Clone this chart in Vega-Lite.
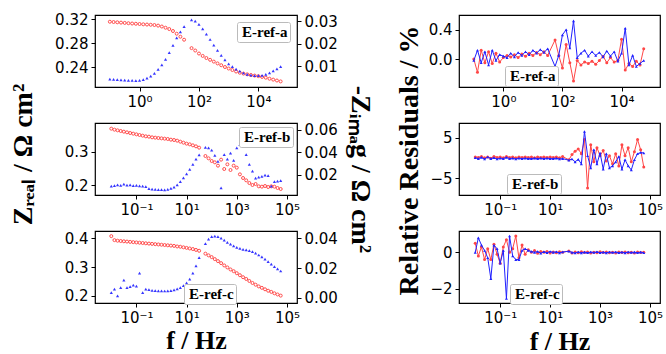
{
  "$schema": "https://vega.github.io/schema/vega-lite/v6.json",
  "background": "white",
  "padding": {"left": 8, "top": 11, "right": 0, "bottom": 0},
  "config": {
    "view": {"stroke": "black", "strokeWidth": 1.2},
    "axis": {"domain": false, "grid": false, "tickColor": "black", "tickSize": 4, "tickWidth": 1, "labelFont": "DejaVu Sans", "labelFontSize": 15, "labelColor": "black", "labelPadding": 3, "labelFlush": false, "titleFont": "Liberation Serif", "titleFontWeight": "bold", "titleFontSize": 28, "titleColor": "black"},
    "legend": {"title": null, "fillColor": "white", "strokeColor": "#bbbbbb", "padding": 2, "cornerRadius": 2, "labelFont": "Liberation Serif", "labelFontWeight": "bold", "labelFontSize": 15, "labelColor": "black", "symbolOpacity": 0, "symbolSize": 0, "symbolStrokeWidth": 0, "labelOffset": -12}
  },
  "datasets": {
    "a": [
      {"f": 0.1, "zr": 0.3155, "zi": 0.0042, "rr": 0.0, "ri": -0.02},
      {"f": 0.1334, "zr": 0.3150, "zi": 0.0041, "rr": -0.18, "ri": 0.12},
      {"f": 0.1778, "zr": 0.3145, "zi": 0.0039, "rr": 0.12, "ri": -0.05},
      {"f": 0.2371, "zr": 0.3140, "zi": 0.0038, "rr": -0.05, "ri": 0.10},
      {"f": 0.3162, "zr": 0.3135, "zi": 0.0037, "rr": 0.10, "ri": -0.08},
      {"f": 0.4217, "zr": 0.3130, "zi": 0.0036, "rr": -0.06, "ri": 0.12},
      {"f": 0.5623, "zr": 0.3125, "zi": 0.0036, "rr": 0.08, "ri": -0.02},
      {"f": 0.7499, "zr": 0.3121, "zi": 0.0035, "rr": -0.04, "ri": 0.06},
      {"f": 1, "zr": 0.3117, "zi": 0.0036, "rr": 0.02, "ri": 0.04},
      {"f": 1.334, "zr": 0.3112, "zi": 0.0039, "rr": 0.05, "ri": 0.02},
      {"f": 1.778, "zr": 0.3108, "zi": 0.0046, "rr": 0.03, "ri": 0.08},
      {"f": 2.371, "zr": 0.3104, "zi": 0.0055, "rr": 0.06, "ri": 0.03},
      {"f": 3.162, "zr": 0.3100, "zi": 0.0067, "rr": 0.02, "ri": 0.09},
      {"f": 4.217, "zr": 0.3090, "zi": 0.0085, "rr": 0.07, "ri": 0.05},
      {"f": 5.623, "zr": 0.3075, "zi": 0.0105, "rr": 0.04, "ri": 0.10},
      {"f": 7.499, "zr": 0.3055, "zi": 0.0130, "rr": 0.08, "ri": 0.06},
      {"f": 10, "zr": 0.3033, "zi": 0.0160, "rr": 0.05, "ri": 0.12},
      {"f": 13.34, "zr": 0.3000, "zi": 0.0192, "rr": 0.09, "ri": 0.08},
      {"f": 17.78, "zr": 0.2955, "zi": 0.0225, "rr": 0.06, "ri": 0.13},
      {"f": 23.71, "zr": 0.2905, "zi": 0.0252, "rr": 0.10, "ri": 0.09},
      {"f": 31.62, "zr": 0.2855, "zi": 0.0275, "rr": 0.05, "ri": 0.14},
      {"f": 56.23, "zr": 0.2715, "zi": 0.0305, "rr": 0.26, "ri": -0.10},
      {"f": 74.99, "zr": 0.2675, "zi": 0.0300, "rr": 0.05, "ri": 0.05},
      {"f": 100, "zr": 0.2625, "zi": 0.0285, "rr": -0.12, "ri": 0.33},
      {"f": 133.4, "zr": 0.2585, "zi": 0.0265, "rr": 0.20, "ri": 0.40},
      {"f": 177.8, "zr": 0.2550, "zi": 0.0242, "rr": -0.05, "ri": 0.15},
      {"f": 237.1, "zr": 0.2520, "zi": 0.0218, "rr": -0.30, "ri": 0.52},
      {"f": 316.2, "zr": 0.2490, "zi": 0.0193, "rr": -0.02, "ri": 0.02},
      {"f": 421.7, "zr": 0.2460, "zi": 0.0170, "rr": -0.08, "ri": 0.08},
      {"f": 562.3, "zr": 0.2430, "zi": 0.0147, "rr": -0.04, "ri": 0.12},
      {"f": 749.9, "zr": 0.2400, "zi": 0.0127, "rr": -0.06, "ri": 0.04},
      {"f": 1000, "zr": 0.2375, "zi": 0.0110, "rr": -0.03, "ri": 0.10},
      {"f": 1334, "zr": 0.2350, "zi": 0.0097, "rr": -0.07, "ri": 0.05},
      {"f": 1778, "zr": 0.2325, "zi": 0.0086, "rr": -0.02, "ri": 0.09},
      {"f": 2371, "zr": 0.2305, "zi": 0.0077, "rr": 0.04, "ri": 0.03},
      {"f": 3162, "zr": 0.2290, "zi": 0.0069, "rr": -0.05, "ri": 0.11},
      {"f": 4217, "zr": 0.2278, "zi": 0.0063, "rr": 0.02, "ri": 0.04},
      {"f": 5623, "zr": 0.2267, "zi": 0.0059, "rr": -0.04, "ri": 0.10},
      {"f": 7499, "zr": 0.2257, "zi": 0.0057, "rr": -0.02, "ri": -0.03},
      {"f": 10000, "zr": 0.2248, "zi": 0.0057, "rr": 0.27, "ri": 0.08},
      {"f": 13340, "zr": 0.2235, "zi": 0.0058, "rr": -0.15, "ri": 0.42},
      {"f": 17780, "zr": 0.2222, "zi": 0.0063, "rr": -0.06, "ri": -0.08},
      {"f": 23710, "zr": 0.2205, "zi": 0.0070, "rr": -0.10, "ri": 0.05},
      {"f": 31620, "zr": 0.2190, "zi": 0.0078, "rr": -0.03, "ri": -0.10},
      {"f": 42170, "zr": 0.2175, "zi": 0.0087, "rr": -0.08, "ri": -0.06},
      {"f": 56230, "zr": 0.2160, "zi": 0.0097, "rr": 0.14, "ri": -0.02}
    ],
    "b": [
      {"f": 0.01, "zr": 0.369, "zi": 0.0100, "rr": 0.2, "ri": 0.0},
      {"f": 0.01334, "zr": 0.366, "zi": 0.0105, "rr": 0.1, "ri": -0.2},
      {"f": 0.01778, "zr": 0.364, "zi": 0.0112, "rr": 0.3, "ri": 0.1},
      {"f": 0.02371, "zr": 0.362, "zi": 0.0108, "rr": 0.0, "ri": -0.3},
      {"f": 0.03162, "zr": 0.360, "zi": 0.0118, "rr": 0.2, "ri": 0.2},
      {"f": 0.04217, "zr": 0.358, "zi": 0.0110, "rr": -0.1, "ri": -0.2},
      {"f": 0.05623, "zr": 0.356, "zi": 0.0112, "rr": 0.3, "ri": 0.0},
      {"f": 0.07499, "zr": 0.354, "zi": 0.0106, "rr": 0.1, "ri": -0.3},
      {"f": 0.1, "zr": 0.352, "zi": 0.0108, "rr": 0.2, "ri": -0.1},
      {"f": 0.1334, "zr": 0.350, "zi": 0.0104, "rr": 0.0, "ri": -0.2},
      {"f": 0.1778, "zr": 0.348, "zi": 0.0100, "rr": 0.3, "ri": 0.1},
      {"f": 0.2371, "zr": 0.346, "zi": 0.0096, "rr": 0.1, "ri": -0.2},
      {"f": 0.3162, "zr": 0.345, "zi": 0.0078, "rr": 0.2, "ri": -0.1},
      {"f": 0.4217, "zr": 0.343, "zi": 0.0075, "rr": 0.0, "ri": -0.3},
      {"f": 0.5623, "zr": 0.342, "zi": 0.0073, "rr": 0.2, "ri": -0.1},
      {"f": 0.7499, "zr": 0.341, "zi": 0.0070, "rr": 0.1, "ri": -0.2},
      {"f": 1, "zr": 0.340, "zi": 0.0069, "rr": 0.2, "ri": -0.1},
      {"f": 1.334, "zr": 0.339, "zi": 0.0068, "rr": 0.1, "ri": -0.2},
      {"f": 1.778, "zr": 0.338, "zi": 0.0072, "rr": 0.2, "ri": -0.2},
      {"f": 2.371, "zr": 0.336, "zi": 0.0080, "rr": 0.0, "ri": -0.1},
      {"f": 3.162, "zr": 0.335, "zi": 0.0092, "rr": 0.2, "ri": -0.2},
      {"f": 4.217, "zr": 0.333, "zi": 0.0112, "rr": 0.1, "ri": -0.1},
      {"f": 5.623, "zr": 0.330, "zi": 0.0140, "rr": 0.2, "ri": -0.2},
      {"f": 7.499, "zr": 0.327, "zi": 0.0175, "rr": 0.1, "ri": -0.1},
      {"f": 10, "zr": 0.324, "zi": 0.0210, "rr": 0.2, "ri": -0.2},
      {"f": 13.34, "zr": 0.322, "zi": 0.0250, "rr": 0.1, "ri": -0.2},
      {"f": 17.78, "zr": 0.319, "zi": 0.0295, "rr": 0.2, "ri": -0.1},
      {"f": 23.71, "zr": 0.316, "zi": 0.0340, "rr": 0.0, "ri": -0.3},
      {"f": 31.62, "zr": 0.312, "zi": 0.0378, "rr": 0.3, "ri": -0.2},
      {"f": 56.23, "zr": 0.287, "zi": 0.0445, "rr": -0.5, "ri": -0.6},
      {"f": 74.99, "zr": 0.280, "zi": 0.0440, "rr": 0.8, "ri": -0.3},
      {"f": 100, "zr": 0.272, "zi": 0.0420, "rr": 1.6, "ri": -1.0},
      {"f": 133.4, "zr": 0.268, "zi": 0.0375, "rr": 2.2, "ri": -0.4},
      {"f": 177.8, "zr": 0.258, "zi": 0.0320, "rr": 1.0, "ri": -1.5},
      {"f": 237.1, "zr": 0.276, "zi": 0.0085, "rr": 4.5, "ri": 6.5},
      {"f": 316.2, "zr": 0.248, "zi": 0.0380, "rr": -7.5, "ri": 0.5},
      {"f": 421.7, "zr": 0.262, "zi": 0.0340, "rr": 3.2, "ri": -2.5},
      {"f": 562.3, "zr": 0.245, "zi": 0.0395, "rr": -1.0, "ri": 2.0},
      {"f": 749.9, "zr": 0.258, "zi": 0.0330, "rr": 2.5, "ri": -1.5},
      {"f": 1000, "zr": 0.252, "zi": 0.0440, "rr": 0.5, "ri": 1.2},
      {"f": 1334, "zr": 0.232, "zi": 0.0470, "rr": 1.8, "ri": -2.8},
      {"f": 1778, "zr": 0.221, "zi": 0.0455, "rr": -0.8, "ri": 1.0},
      {"f": 2371, "zr": 0.214, "zi": 0.0380, "rr": 0.5, "ri": -2.5},
      {"f": 3162, "zr": 0.206, "zi": 0.0295, "rr": -1.5, "ri": -2.0},
      {"f": 4217, "zr": 0.200, "zi": 0.0235, "rr": 1.0, "ri": -1.0},
      {"f": 5623, "zr": 0.203, "zi": 0.0172, "rr": -2.0, "ri": 0.3},
      {"f": 7499, "zr": 0.196, "zi": 0.0180, "rr": 3.2, "ri": -2.8},
      {"f": 10000, "zr": 0.195, "zi": 0.0188, "rr": 0.5, "ri": -0.5},
      {"f": 13340, "zr": 0.197, "zi": 0.0198, "rr": 2.5, "ri": -2.0},
      {"f": 17780, "zr": 0.194, "zi": 0.0195, "rr": -1.0, "ri": -3.0},
      {"f": 23710, "zr": 0.196, "zi": 0.0100, "rr": 1.5, "ri": -0.5},
      {"f": 31620, "zr": 0.195, "zi": 0.0140, "rr": 4.5, "ri": 1.0},
      {"f": 42170, "zr": 0.191, "zi": 0.0145, "rr": 2.0, "ri": 1.3},
      {"f": 56230, "zr": 0.188, "zi": 0.0150, "rr": -2.3, "ri": 1.2}
    ],
    "c": [
      {"f": 0.01, "zr": 0.408, "zi": 0.0034, "rr": 0.5, "ri": 0.0},
      {"f": 0.01334, "zr": 0.394, "zi": 0.0057, "rr": -0.2, "ri": 0.8},
      {"f": 0.01778, "zr": 0.392, "zi": 0.0012, "rr": 0.3, "ri": 0.4},
      {"f": 0.02371, "zr": 0.391, "zi": 0.0068, "rr": -0.4, "ri": 0.1},
      {"f": 0.03162, "zr": 0.390, "zi": 0.0119, "rr": 0.2, "ri": -0.3},
      {"f": 0.04217, "zr": 0.389, "zi": 0.0068, "rr": -0.4, "ri": -1.45},
      {"f": 0.05623, "zr": 0.388, "zi": 0.0075, "rr": 0.45, "ri": 0.4},
      {"f": 0.07499, "zr": 0.387, "zi": 0.0085, "rr": -0.1, "ri": 0.2},
      {"f": 0.1, "zr": 0.386, "zi": 0.0078, "rr": -0.6, "ri": -0.6},
      {"f": 0.1334, "zr": 0.385, "zi": 0.0165, "rr": 0.3, "ri": 0.1},
      {"f": 0.1778, "zr": 0.384, "zi": 0.0034, "rr": 0.7, "ri": -2.55},
      {"f": 0.2371, "zr": 0.383, "zi": 0.0057, "rr": 0.0, "ri": 0.9},
      {"f": 0.3162, "zr": 0.382, "zi": 0.0055, "rr": 0.2, "ri": -0.2},
      {"f": 0.4217, "zr": 0.381, "zi": 0.0050, "rr": 0.9, "ri": -0.4},
      {"f": 0.5623, "zr": 0.380, "zi": 0.0048, "rr": -0.3, "ri": -0.4},
      {"f": 0.7499, "zr": 0.379, "zi": 0.0046, "rr": 0.4, "ri": 0.1},
      {"f": 1, "zr": 0.378, "zi": 0.0046, "rr": -0.1, "ri": 0.2},
      {"f": 1.334, "zr": 0.377, "zi": 0.0045, "rr": 0.15, "ri": 0.1},
      {"f": 1.778, "zr": 0.376, "zi": 0.0046, "rr": 0.0, "ri": 0.05},
      {"f": 2.371, "zr": 0.375, "zi": 0.0047, "rr": 0.1, "ri": 0.0},
      {"f": 3.162, "zr": 0.374, "zi": 0.0052, "rr": -0.05, "ri": 0.05},
      {"f": 4.217, "zr": 0.372, "zi": 0.0060, "rr": 0.05, "ri": -0.05},
      {"f": 5.623, "zr": 0.371, "zi": 0.0068, "rr": 0.0, "ri": 0.03},
      {"f": 7.499, "zr": 0.369, "zi": 0.0082, "rr": 0.05, "ri": -0.02},
      {"f": 10, "zr": 0.367, "zi": 0.0100, "rr": -0.03, "ri": 0.05},
      {"f": 13.34, "zr": 0.365, "zi": 0.0125, "rr": 0.02, "ri": 0.0},
      {"f": 17.78, "zr": 0.363, "zi": 0.0165, "rr": -0.02, "ri": 0.03},
      {"f": 23.71, "zr": 0.360, "zi": 0.0215, "rr": 0.03, "ri": -0.03},
      {"f": 31.62, "zr": 0.357, "zi": 0.0270, "rr": 0.0, "ri": 0.02},
      {"f": 56.23, "zr": 0.347, "zi": 0.0365, "rr": 0.08, "ri": 0.06},
      {"f": 74.99, "zr": 0.341, "zi": 0.0395, "rr": -0.03, "ri": 0.0},
      {"f": 100, "zr": 0.335, "zi": 0.0412, "rr": 0.02, "ri": -0.04},
      {"f": 133.4, "zr": 0.328, "zi": 0.0416, "rr": -0.02, "ri": 0.02},
      {"f": 177.8, "zr": 0.321, "zi": 0.0412, "rr": 0.03, "ri": -0.03},
      {"f": 237.1, "zr": 0.314, "zi": 0.0402, "rr": -0.01, "ri": 0.01},
      {"f": 316.2, "zr": 0.306, "zi": 0.0388, "rr": 0.02, "ri": -0.02},
      {"f": 421.7, "zr": 0.299, "zi": 0.0374, "rr": -0.03, "ri": 0.02},
      {"f": 562.3, "zr": 0.292, "zi": 0.0362, "rr": 0.01, "ri": -0.01},
      {"f": 749.9, "zr": 0.286, "zi": 0.0350, "rr": -0.02, "ri": 0.03},
      {"f": 1000, "zr": 0.279, "zi": 0.0340, "rr": 0.03, "ri": -0.02},
      {"f": 1334, "zr": 0.272, "zi": 0.0332, "rr": -0.01, "ri": 0.01},
      {"f": 1778, "zr": 0.265, "zi": 0.0326, "rr": 0.02, "ri": -0.03},
      {"f": 2371, "zr": 0.259, "zi": 0.0322, "rr": -0.02, "ri": 0.02},
      {"f": 3162, "zr": 0.252, "zi": 0.0318, "rr": 0.01, "ri": -0.01},
      {"f": 4217, "zr": 0.245, "zi": 0.0310, "rr": -0.03, "ri": 0.02},
      {"f": 5623, "zr": 0.239, "zi": 0.0300, "rr": 0.02, "ri": -0.02},
      {"f": 7499, "zr": 0.233, "zi": 0.0288, "rr": -0.01, "ri": 0.01},
      {"f": 10000, "zr": 0.228, "zi": 0.0275, "rr": 0.02, "ri": -0.03},
      {"f": 13340, "zr": 0.223, "zi": 0.0260, "rr": -0.02, "ri": 0.02},
      {"f": 17780, "zr": 0.218, "zi": 0.0243, "rr": 0.01, "ri": -0.01},
      {"f": 23710, "zr": 0.214, "zi": 0.0227, "rr": -0.03, "ri": 0.01},
      {"f": 31620, "zr": 0.209, "zi": 0.0210, "rr": 0.02, "ri": -0.02},
      {"f": 42170, "zr": 0.205, "zi": 0.0195, "rr": -0.01, "ri": 0.01},
      {"f": 56230, "zr": 0.201, "zi": 0.0180, "rr": 0.01, "ri": -0.02}
    ]
  },
  "hconcat": [
    {
      "vconcat": [
        {
          "width": 202, "height": 72,
          "data": {"name": "a"},
          "layer": [
            {
              "mark": {"type": "point", "filled": false, "strokeWidth": 1, "size": 9, "color": "#ff3b3b", "opacity": 0.9},
              "encoding": {
                "x": {"field": "f", "type": "quantitative", "scale": {"type": "log", "domain": [0.0316, 200000], "nice": false}, "axis": {"title": null, "values": [1, 100, 10000], "labelExpr": "datum.value < 0.5 ? '10⁻¹' : datum.value < 5 ? '10⁰' : datum.value < 50 ? '10¹' : datum.value < 500 ? '10²' : datum.value < 5000 ? '10³' : datum.value < 50000 ? '10⁴' : '10⁵'"}},
                "y": {"field": "zr", "type": "quantitative", "scale": {"domain": [0.2067, 0.3267], "nice": false, "zero": false}, "axis": {"orient": "left", "title": null, "values": [0.24, 0.28, 0.32], "format": ".2f"}},
                "shape": {"datum": "E-ref-a", "scale": {"range": ["circle"]}, "legend": {"orient": "top-right", "offset": 7}}
              }
            },
            {
              "mark": {"type": "point", "shape": "triangle-up", "filled": true, "size": 10, "color": "#1f1fff", "opacity": 0.9},
              "encoding": {
                "x": {"field": "f", "type": "quantitative"},
                "y": {"field": "zi", "type": "quantitative", "scale": {"domain": [0.00067, 0.0327], "nice": false, "zero": false}, "axis": {"orient": "right", "title": null, "values": [0.01, 0.02, 0.03], "format": ".2f"}}
              }
            }
          ],
          "resolve": {"scale": {"y": "independent"}}
        },
        {
          "width": 202, "height": 72,
          "data": {"name": "b"},
          "layer": [
            {
              "mark": {"type": "point", "filled": false, "strokeWidth": 1, "size": 9, "color": "#ff3b3b", "opacity": 0.9},
              "encoding": {
                "x": {"field": "f", "type": "quantitative", "scale": {"type": "log", "domain": [0.00224, 251000], "nice": false}, "axis": {"title": null, "values": [0.1, 10, 1000, 100000], "labelExpr": "datum.value < 0.5 ? '10⁻¹' : datum.value < 5 ? '10⁰' : datum.value < 50 ? '10¹' : datum.value < 500 ? '10²' : datum.value < 5000 ? '10³' : datum.value < 50000 ? '10⁴' : '10⁵'"}},
                "y": {"field": "zr", "type": "quantitative", "scale": {"domain": [0.170, 0.386], "nice": false, "zero": false}, "axis": {"orient": "left", "values": [0.2, 0.3], "format": ".1f", "title": "Zᵣₑₐₗ / Ω cm²", "titleAngle": 270, "titleAlign": "center", "titleBaseline": "middle", "titleX": -72, "titleY": 31}},
                "shape": {"datum": "E-ref-b", "scale": {"range": ["circle"]}, "legend": {"orient": "top-right", "offset": 4}}
              }
            },
            {
              "mark": {"type": "point", "shape": "triangle-up", "filled": true, "size": 10, "color": "#1f1fff", "opacity": 0.9},
              "encoding": {
                "x": {"field": "f", "type": "quantitative"},
                "y": {"field": "zi", "type": "quantitative", "scale": {"domain": [0.0022, 0.0662], "nice": false, "zero": false}, "axis": {"orient": "right", "values": [0.02, 0.04, 0.06], "format": ".2f", "title": "-Zᵢₘₐg / Ω cm²", "titleAngle": 90, "titleAlign": "center", "titleBaseline": "middle", "titleX": 62, "titleY": 46}}
              }
            }
          ],
          "resolve": {"scale": {"y": "independent"}}
        },
        {
          "width": 202, "height": 72,
          "data": {"name": "c"},
          "layer": [
            {
              "mark": {"type": "point", "filled": false, "strokeWidth": 1, "size": 9, "color": "#ff3b3b", "opacity": 0.9},
              "encoding": {
                "x": {"field": "f", "type": "quantitative", "scale": {"type": "log", "domain": [0.00224, 251000], "nice": false}, "axis": {"title": "f / Hz", "titleFontSize": 26, "titleY": 37, "titleBaseline": "middle", "values": [0.1, 10, 1000, 100000], "labelExpr": "datum.value < 0.5 ? '10⁻¹' : datum.value < 5 ? '10⁰' : datum.value < 50 ? '10¹' : datum.value < 500 ? '10²' : datum.value < 5000 ? '10³' : datum.value < 50000 ? '10⁴' : '10⁵'"}},
                "y": {"field": "zr", "type": "quantitative", "scale": {"domain": [0.1753, 0.4258], "nice": false, "zero": false}, "axis": {"orient": "left", "title": null, "values": [0.2, 0.3, 0.4], "format": ".1f"}},
                "shape": {"datum": "E-ref-c", "scale": {"range": ["circle"]}, "legend": {"orient": "none", "legendX": 89, "legendY": 53}}
              }
            },
            {
              "mark": {"type": "point", "shape": "triangle-up", "filled": true, "size": 10, "color": "#1f1fff", "opacity": 0.9},
              "encoding": {
                "x": {"field": "f", "type": "quantitative"},
                "y": {"field": "zi", "type": "quantitative", "scale": {"domain": [-0.0036, 0.045], "nice": false, "zero": false}, "axis": {"orient": "right", "title": null, "values": [0.0, 0.02, 0.04], "format": ".2f"}}
              }
            }
          ],
          "resolve": {"scale": {"y": "independent"}}
        }
      ],
      "spacing": 36,
      "bounds": "flush",
      "resolve": {"scale": {"shape": "independent"}, "legend": {"shape": "independent"}}
    },
    {
      "vconcat": [
        {
          "width": 201, "height": 72,
          "data": {"name": "a"},
          "encoding": {
            "x": {"field": "f", "type": "quantitative", "scale": {"type": "log", "domain": [0.0316, 200000], "nice": false}, "axis": {"title": null, "values": [1, 100, 10000], "labelExpr": "datum.value < 0.5 ? '10⁻¹' : datum.value < 5 ? '10⁰' : datum.value < 50 ? '10¹' : datum.value < 500 ? '10²' : datum.value < 5000 ? '10³' : datum.value < 50000 ? '10⁴' : '10⁵'"}}
          },
          "layer": [
            {
              "mark": {"type": "line", "color": "#ff4646", "strokeWidth": 1},
              "encoding": {"y": {"field": "rr", "type": "quantitative", "scale": {"domain": [-0.38, 0.60], "nice": false, "zero": false}, "axis": {"title": null, "values": [0.0, 0.4], "format": ".1f"}}}
            },
            {
              "mark": {"type": "point", "filled": true, "size": 9, "color": "#ff4646", "opacity": 1},
              "encoding": {
                "y": {"field": "rr", "type": "quantitative"},
                "shape": {"datum": "E-ref-a", "scale": {"range": ["circle"]}, "legend": {"orient": "none", "legendX": 46, "legendY": 51}}
              }
            },
            {
              "mark": {"type": "line", "color": "#2020ff", "strokeWidth": 1, "point": {"shape": "triangle-up", "filled": true, "size": 9, "color": "#2020ff"}},
              "encoding": {"y": {"field": "ri", "type": "quantitative"}}
            }
          ]
        },
        {
          "width": 201, "height": 72,
          "data": {"name": "b"},
          "encoding": {
            "x": {"field": "f", "type": "quantitative", "scale": {"type": "log", "domain": [0.00224, 251000], "nice": false}, "axis": {"title": null, "values": [0.1, 10, 1000, 100000], "labelExpr": "datum.value < 0.5 ? '10⁻¹' : datum.value < 5 ? '10⁰' : datum.value < 50 ? '10¹' : datum.value < 500 ? '10²' : datum.value < 5000 ? '10³' : datum.value < 50000 ? '10⁴' : '10⁵'"}}
          },
          "layer": [
            {
              "mark": {"type": "line", "color": "#ff4646", "strokeWidth": 1},
              "encoding": {"y": {"field": "rr", "type": "quantitative", "scale": {"domain": [-9.2, 8.6], "nice": false, "zero": false}, "axis": {"values": [-5, 0, 5], "format": "d", "title": "Relative Residuals / %", "titleAngle": 270, "titleAlign": "center", "titleBaseline": "middle", "titleX": -50, "titleY": 37}}}
            },
            {
              "mark": {"type": "point", "filled": true, "size": 9, "color": "#ff4646", "opacity": 1},
              "encoding": {
                "y": {"field": "rr", "type": "quantitative"},
                "shape": {"datum": "E-ref-b", "scale": {"range": ["circle"]}, "legend": {"orient": "none", "legendX": 48, "legendY": 51}}
              }
            },
            {
              "mark": {"type": "line", "color": "#2020ff", "strokeWidth": 1, "point": {"shape": "triangle-up", "filled": true, "size": 9, "color": "#2020ff"}},
              "encoding": {"y": {"field": "ri", "type": "quantitative"}}
            }
          ]
        },
        {
          "width": 201, "height": 72,
          "data": {"name": "c"},
          "encoding": {
            "x": {"field": "f", "type": "quantitative", "scale": {"type": "log", "domain": [0.00224, 251000], "nice": false}, "axis": {"title": "f / Hz", "titleFontSize": 26, "titleY": 38, "titleBaseline": "middle", "values": [0.1, 10, 1000, 100000], "labelExpr": "datum.value < 0.5 ? '10⁻¹' : datum.value < 5 ? '10⁰' : datum.value < 50 ? '10¹' : datum.value < 500 ? '10²' : datum.value < 5000 ? '10³' : datum.value < 50000 ? '10⁴' : '10⁵'"}}
          },
          "layer": [
            {
              "mark": {"type": "line", "color": "#ff4646", "strokeWidth": 1},
              "encoding": {"y": {"field": "rr", "type": "quantitative", "scale": {"domain": [-2.8, 1.18], "nice": false, "zero": false}, "axis": {"title": null, "values": [-2, 0], "format": "d"}}}
            },
            {
              "mark": {"type": "point", "filled": true, "size": 9, "color": "#ff4646", "opacity": 1},
              "encoding": {
                "y": {"field": "rr", "type": "quantitative"},
                "shape": {"datum": "E-ref-c", "scale": {"range": ["circle"]}, "legend": {"orient": "none", "legendX": 51, "legendY": 53}}
              }
            },
            {
              "mark": {"type": "line", "color": "#2020ff", "strokeWidth": 1, "point": {"shape": "triangle-up", "filled": true, "size": 9, "color": "#2020ff"}},
              "encoding": {"y": {"field": "ri", "type": "quantitative"}}
            }
          ]
        }
      ],
      "spacing": 36,
      "bounds": "flush",
      "resolve": {"scale": {"shape": "independent"}, "legend": {"shape": "independent"}}
    }
  ],
  "spacing": 364,
  "bounds": "flush",
  "resolve": {"scale": {"shape": "independent"}, "legend": {"shape": "independent"}}
}
